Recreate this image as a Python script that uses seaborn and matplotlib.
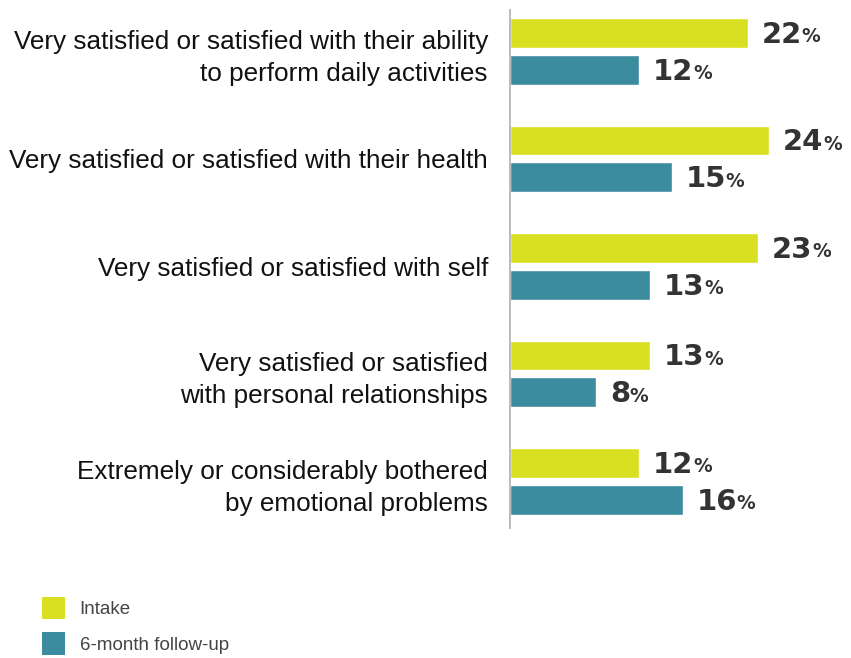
import matplotlib
matplotlib.use('Agg')
import matplotlib.pyplot as plt
from matplotlib.patches import Patch
import seaborn as sns
import pandas as pd

categories = [
    "Very satisfied or satisfied with their ability\nto perform daily activities",
    "Very satisfied or satisfied with their health",
    "Very satisfied or satisfied with self",
    "Very satisfied or satisfied\nwith personal relationships",
    "Extremely or considerably bothered\nby emotional problems",
]
intake = [22, 24, 23, 13, 12]
followup = [12, 15, 13, 8, 16]
series = ["Intake", "6-month follow-up"]
colors = ["#D9E021", "#3B8C9E"]

df = pd.DataFrame({
    "category": categories * 2,
    "value": intake + followup,
    "series": [series[0]] * len(categories) + [series[1]] * len(categories),
})

sns.set_theme(style="white")
plt.rcParams['font.family'] = ['Liberation Sans', 'DejaVu Sans']

W, H = 851, 658
fig = plt.figure(figsize=(W / 100, H / 100), dpi=100)
ax = fig.add_axes([509.5 / W, 130 / H, 341.5 / W, 518 / H])

sns.barplot(data=df, y="category", x="value", hue="series", order=categories,
            hue_order=series, palette=colors, orient="h", width=0.688, gap=0.19,
            saturation=1, errorbar=None, legend=False, ax=ax)

px_per_unit = 10.82
ax.set_xlim(0, 341.5 / px_per_unit)
ax.set_ylim(4.433, -0.386)

for s in ["top", "right", "bottom"]:
    ax.spines[s].set_visible(False)
ax.spines["left"].set_color("#b5b5b5")
ax.spines["left"].set_linewidth(1.3)

ax.set_xticks([])
ax.set_xlabel("")
ax.set_ylabel("")
ax.tick_params(axis="y", length=0, pad=15.5)
for lbl in ax.get_yticklabels():
    lbl.set_fontsize(18.8)
    lbl.set_color("#111111")
    lbl.set_linespacing(1.42)
    lbl.set_ha("right")

text_color = "#333333"
for container, vals in zip(ax.containers, [intake, followup]):
    for bar, v in zip(container, vals):
        y = bar.get_y() + bar.get_height() / 2
        t = ax.annotate(f"{v}", xy=(v, y), xytext=(10.0, -1.2), textcoords="offset points",
                        ha="left", va="center", fontsize=21, fontweight="bold",
                        color=text_color, family="DejaVu Sans")
        ax.annotate("%", xy=(1, 0), xycoords=t, xytext=(-0.3, 1.8), textcoords="offset points",
                    ha="left", va="bottom", fontsize=13.5, fontweight="bold",
                    color=text_color, family="DejaVu Sans")

handles = [Patch(facecolor=c, edgecolor="none") for c in colors]
leg = fig.legend(handles, series, loc="upper left",
                 bbox_to_anchor=(42 / W, 1 - 597 / H), bbox_transform=fig.transFigure,
                 frameon=False, fontsize=13.5, borderpad=0, borderaxespad=0,
                 handlelength=1.2, handleheight=1.45, handletextpad=0.8,
                 labelspacing=0.7, labelcolor="#444444")

fig.savefig("out.png", dpi=100)
